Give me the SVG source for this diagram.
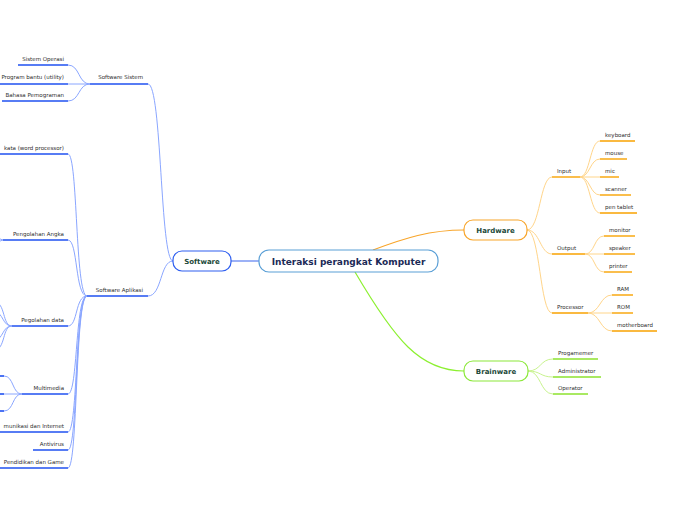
<svg xmlns="http://www.w3.org/2000/svg" width="696" height="520" viewBox="0 0 696 520">
<style>
text{font-family:"DejaVu Sans","Liberation Sans",sans-serif}
.t{font-size:5.5px;fill:#2e2e2e}
.e{text-anchor:end}
.nt{font-size:7px;font-weight:bold;fill:#1d4a3a;text-anchor:middle}
.ct{font-size:9px;font-weight:bold;fill:#1b2a56;text-anchor:middle}
.cb{fill:none;stroke:#8aa6ff;stroke-width:1}
.ub{stroke:#1f50f0;stroke-width:1.6}
.co{fill:none;stroke:#ffd58a;stroke-width:1}
.uo{stroke:#f8a200;stroke-width:1.4}
.cg{fill:none;stroke:#c8f38e;stroke-width:1}
.ug{stroke:#8ce22e;stroke-width:1.4}
</style>
<rect width="696" height="520" fill="#fff"/>
<g id="connectors">
<line x1="231" y1="261" x2="259" y2="261" stroke="#5b7ef0" stroke-width="1.2"/>
<path d="M373 250 C405 238 430 230 464 230" fill="none" stroke="#f8a52a" stroke-width="1.2"/>
<path d="M355 272 C395 340 420 371 464 371" fill="none" stroke="#8cf030" stroke-width="1.2"/>
<path class="cb" d="M173 261 C160 261 162 84 148 84"/>
<path class="cb" d="M173 261 C160 261 162 296 148 296"/>
<path class="cb" d="M90 84 C78 84 80 65 68 65"/>
<path class="cb" d="M90 84 L68 84"/>
<path class="cb" d="M90 84 C78 84 80 101 68 101"/>
<path class="cb" d="M87 296 C75 296 78 154 68 154"/>
<path class="cb" d="M87 296 C75 296 78 240 68 240"/>
<path class="cb" d="M87 296 C75 296 78 326 68 326"/>
<path class="cb" d="M87 296 C75 296 78 394 68 394"/>
<path class="cb" d="M87 296 C75 296 78 432 68 432"/>
<path class="cb" d="M87 296 C75 296 78 450 68 450"/>
<path class="cb" d="M87 296 C75 296 78 468 68 468"/>
<path class="cb" d="M3 240 C0 240 -2 236 -6 236"/>
<path class="cb" d="M3 240 C0 240 -2 244 -6 244"/>
<path class="cb" d="M12 326 C2 326 6 303 -6 301"/>
<path class="cb" d="M12 326 C2 326 4 313 -6 311"/>
<path class="cb" d="M12 326 C2 326 4 339 -6 341"/>
<path class="cb" d="M12 326 C2 326 6 349 -6 351"/>
<path class="cb" d="M22 394 C12 394 14 376 4 376"/>
<path class="cb" d="M22 394 L4 394"/>
<path class="cb" d="M22 394 C12 394 14 411 4 411"/>
<path class="co" d="M527 230 C540 230 540 177 552 177"/>
<path class="co" d="M527 230 C540 230 540 254 552 254"/>
<path class="co" d="M527 230 C540 230 540 313 552 313"/>
<path class="co" d="M580 177 C590 177 590 141 600 141"/>
<path class="co" d="M580 177 C590 177 590 159 600 159"/>
<path class="co" d="M580 177 L600 177"/>
<path class="co" d="M580 177 C590 177 590 195 600 195"/>
<path class="co" d="M580 177 C590 177 590 213 600 213"/>
<path class="co" d="M585 254 C595 254 594 236 604 236"/>
<path class="co" d="M585 254 L604 254"/>
<path class="co" d="M585 254 C595 254 594 272 604 272"/>
<path class="co" d="M588 313 C600 313 600 295 612 295"/>
<path class="co" d="M588 313 L612 313"/>
<path class="co" d="M588 313 C600 313 600 331 612 331"/>
<path class="cg" d="M528 371 C541 371 540 359 553 359"/>
<path class="cg" d="M528 371 C541 371 540 377 553 377"/>
<path class="cg" d="M528 371 C541 371 540 394 553 394"/>
</g>
<g id="center">
<rect x="259" y="250" width="179" height="22" rx="10" fill="#fff" stroke="#5a9fd6" stroke-width="1.2"/>
<text class="ct" x="348.5" y="264.5">Interaksi perangkat Komputer</text>
</g>
<g id="software">
<rect x="173" y="251" width="58" height="20" rx="9" fill="#fff" stroke="#2f5ff0" stroke-width="1.2"/>
<text class="nt" x="202" y="263.5">Software</text>
</g>
<g id="hardware">
<rect x="464" y="220" width="63" height="20" rx="9" fill="#fff" stroke="#f8a52a" stroke-width="1.2"/>
<text class="nt" x="495.5" y="232.5">Hardware</text>
</g>
<g id="brainware">
<rect x="464" y="361" width="64" height="20" rx="9" fill="#fff" stroke="#8ce83a" stroke-width="1.2"/>
<text class="nt" x="496" y="373.5">Brainware</text>
</g>
<g id="software-sistem"><line class="ub" x1="90" y1="84" x2="148" y2="84"/><text class="t e" x="143" y="79">Software Sistem</text></g>
<g id="sistem-operasi"><line class="ub" x1="18" y1="65" x2="68" y2="65"/><text class="t e" x="64" y="61">Sistem Operasi</text></g>
<g id="program-bantu"><line class="ub" x1="0" y1="84" x2="68" y2="84"/><text class="t e" x="64" y="79">Program bantu (utility)</text></g>
<g id="bahasa"><line class="ub" x1="2" y1="101" x2="68" y2="101"/><text class="t e" x="64" y="97">Bahasa Pemograman</text></g>
<g id="software-aplikasi"><line class="ub" x1="87" y1="296" x2="148" y2="296"/><text class="t e" x="143" y="292">Software Aplikasi</text></g>
<g id="word"><line class="ub" x1="-10" y1="154" x2="68" y2="154"/><text class="t e" x="64" y="150">kata (word processor)</text></g>
<g id="angka"><line class="ub" x1="3" y1="240" x2="68" y2="240"/><text class="t e" x="64" y="236">Pengolahan Angka</text></g>
<g id="data"><line class="ub" x1="12" y1="326" x2="68" y2="326"/><text class="t e" x="64" y="322">Pegolahan data</text></g>
<g id="multimedia"><line class="ub" x1="22" y1="394" x2="68" y2="394"/><text class="t e" x="64" y="390">Multimedia</text>
<line class="ub" x1="-10" y1="376" x2="4" y2="376"/><line class="ub" x1="-10" y1="394" x2="4" y2="394"/><line class="ub" x1="-10" y1="411" x2="4" y2="411"/></g>
<g id="komunikasi"><line class="ub" x1="-10" y1="432" x2="68" y2="432"/><text class="t e" x="64" y="428">munikasi dan Internet</text></g>
<g id="antivirus"><line class="ub" x1="33" y1="450" x2="68" y2="450"/><text class="t e" x="64" y="446">Antivirus</text></g>
<g id="game"><line class="ub" x1="0" y1="468" x2="68" y2="468"/><text class="t e" x="64" y="464">Pendidikan dan Game</text></g>
<g id="input"><line class="uo" x1="552" y1="177" x2="580" y2="177"/><text class="t" x="557" y="173">Input</text></g>
<g id="keyboard"><line class="uo" x1="600" y1="141" x2="635" y2="141"/><text class="t" x="605" y="137">keyboard</text></g>
<g id="mouse"><line class="uo" x1="600" y1="159" x2="627" y2="159"/><text class="t" x="605" y="155">mouse</text></g>
<g id="mic"><line class="uo" x1="600" y1="177" x2="619" y2="177"/><text class="t" x="605" y="173">mic</text></g>
<g id="scanner"><line class="uo" x1="600" y1="195" x2="631" y2="195"/><text class="t" x="605" y="191">scanner</text></g>
<g id="pen-tablet"><line class="uo" x1="600" y1="213" x2="637" y2="213"/><text class="t" x="605" y="209">pen tablet</text></g>
<g id="output"><line class="uo" x1="552" y1="254" x2="585" y2="254"/><text class="t" x="557" y="250">Output</text></g>
<g id="monitor"><line class="uo" x1="604" y1="236" x2="635" y2="236"/><text class="t" x="609" y="232">monitor</text></g>
<g id="speaker"><line class="uo" x1="604" y1="254" x2="635" y2="254"/><text class="t" x="609" y="250">speaker</text></g>
<g id="printer"><line class="uo" x1="604" y1="272" x2="632" y2="272"/><text class="t" x="609" y="268">printer</text></g>
<g id="processor"><line class="uo" x1="552" y1="313" x2="588" y2="313"/><text class="t" x="557" y="309">Processor</text></g>
<g id="ram"><line class="uo" x1="612" y1="295" x2="633" y2="295"/><text class="t" x="617" y="291">RAM</text></g>
<g id="rom"><line class="uo" x1="612" y1="313" x2="633" y2="313"/><text class="t" x="617" y="309">ROM</text></g>
<g id="motherboard"><line class="uo" x1="612" y1="331" x2="657" y2="331"/><text class="t" x="617" y="327">motherboard</text></g>
<g id="progamemer"><line class="ug" x1="553" y1="359" x2="598" y2="359"/><text class="t" x="558" y="355">Progamemer</text></g>
<g id="administrator"><line class="ug" x1="553" y1="377" x2="601" y2="377"/><text class="t" x="558" y="373">Administrator</text></g>
<g id="operator"><line class="ug" x1="553" y1="394" x2="588" y2="394"/><text class="t" x="558" y="390">Operator</text></g>
</svg>
